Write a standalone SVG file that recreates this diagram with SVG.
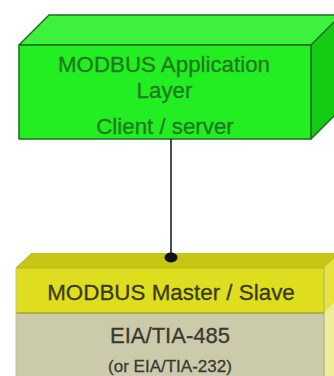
<svg xmlns="http://www.w3.org/2000/svg" width="334" height="376" viewBox="0 0 334 376">
  <style>
    .label { font-family: "Liberation Sans", Arial, sans-serif; text-anchor: middle; stroke-width: 0.3; }
    .app-text { fill: #1f7a1f; stroke: #1f7a1f; font-size: 22.3px; }
    .ms-text { fill: #3a3a12; stroke: #3a3a12; font-size: 22.4px; }
    .phy-text { fill: #3a3a30; stroke: #3a3a30; }
    .edge-green { stroke: #226b22; stroke-width: 1.5; stroke-linejoin: round; }
    .edge-olive { stroke: #8a8a20; stroke-width: 1; }
  </style>

  <rect width="334" height="376" fill="#ffffff"/>

  <!-- Upper block: application layer -->
  <g id="app-layer">
    <!-- top face -->
    <polygon points="19,45 49,15 345,15 315,45" fill="#3cf23c" class="edge-green"/>
    <!-- right side face -->
    <polygon points="311,45 341,15 341,109 311,139" fill="#14cc14" class="edge-green"/>
    <!-- front face -->
    <rect x="19" y="45" width="292" height="94" fill="#22ee22" class="edge-green"/>
    <text class="label app-text" x="164" y="72">MODBUS Application</text>
    <text class="label app-text" x="164.5" y="98">Layer</text>
    <text class="label app-text" x="165" y="134">Client / server</text>
  </g>

  <!-- Lower block: master / slave over the physical layer -->
  <g id="master-slave">
    <!-- top face -->
    <polygon points="16,268 32,253 345,253 329,268" fill="#c6c614"/>
    <line x1="16" y1="268" x2="32" y2="253" stroke="#b0b020" stroke-width="1"/>
    <!-- right side face -->
    <polygon points="324,268 336,257 336,376 324,376" fill="#eeee9a"/>
    <polygon points="324,268 336,257 336,300 324,313" fill="#e4e43c"/>
    <!-- yellow band -->
    <rect x="16" y="268" width="308" height="45" fill="#dede1e"/>
    <!-- physical layer section -->
    <rect x="16" y="313" width="308" height="63" fill="#cbcbac"/>
    <line x1="16" y1="313" x2="324" y2="313" class="edge-olive"/>
    <line x1="16" y1="268" x2="324" y2="268" stroke="#b8b81c" stroke-width="1"/>
    <line x1="324" y1="268" x2="324" y2="376" stroke="#a8a890" stroke-width="1"/>
    <line x1="16" y1="268" x2="16" y2="376" stroke="#c4c480" stroke-width="1"/>
    <text class="label ms-text" x="171" y="300">MODBUS Master / Slave</text>
    <text class="label phy-text" x="170" y="343" font-size="22">EIA/TIA-485</text>
    <text class="label phy-text" x="170" y="372" font-size="17">(or EIA/TIA-232)</text>
  </g>

  <!-- Link between the two layers -->
  <g id="connectors">
    <line x1="171" y1="139" x2="171" y2="256" stroke="#111111" stroke-width="1.5"/>
    <ellipse cx="171" cy="257.5" rx="6.5" ry="5" fill="#111111"/>
  </g>
</svg>
